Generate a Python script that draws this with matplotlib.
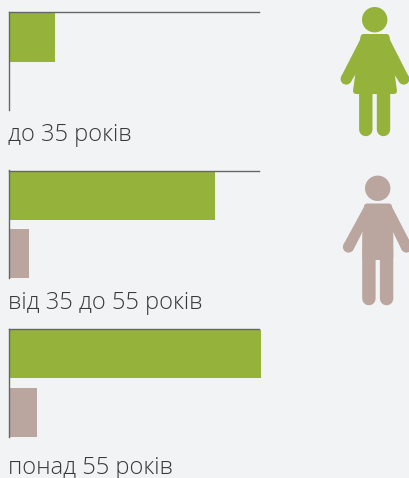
import matplotlib
matplotlib.use('Agg')
import matplotlib.pyplot as plt
from matplotlib.patches import Circle, Polygon

# values in percent of the top line length
age_labels = ['до 35 років', 'від 35 до 55 років', 'понад 55 років']
women = [18.5, 82.5, 100.8]
men = [0, 8.2, 11.4]

W, H = 409, 478
BG = '#f2f3f5'
GREEN = '#95b23b'
BROWN = '#baa69e'
LINE = '#666666'
TEXT = '#3a3a3a'

plt.rcParams['font.family'] = ['Open Sans', 'DejaVu Sans']

fig = plt.figure(figsize=(W / 100, H / 100), dpi=100, facecolor=BG)

# panel: top px, bottom px, lower y limit, label baseline px
panels = [(12, 110, 1.24, 141), (170.5, 278, 1.42, 309), (329, 437, 1.42, 473.5)]

for i, (top, bottom, ymax, base) in enumerate(panels):
    ax = fig.add_axes([8.5 / W, 1 - bottom / H, 250.5 / W, (bottom - top) / H])
    ax.set_facecolor('none')
    ax.barh(0, women[i], height=0.83, color=GREEN, clip_on=False, zorder=1)
    ax.barh(1, men[i], height=0.83, color=BROWN, clip_on=False, zorder=1)
    ax.set_xlim(0, 100)
    ax.set_ylim(ymax, -0.43)
    ax.set_xticks([])
    ax.set_yticks([])
    for side in ['right', 'bottom']:
        ax.spines[side].set_visible(False)
    for side in ['top', 'left']:
        ax.spines[side].set_color(LINE)
        ax.spines[side].set_linewidth(1.0)
        ax.spines[side].set_zorder(3)
    fig.text(8 / W, 1 - base / H, age_labels[i], fontsize=17, fontweight='light',
             color=TEXT, va='baseline', ha='left')

# pixel overlay for the two figures
ov = fig.add_axes([0, 0, 1, 1])
ov.set_xlim(0, W)
ov.set_ylim(H, 0)
ov.axis('off')


def limb(x0, y0, x1, y1, w, c):
    # snapping off, otherwise the legs jump to whole pixels
    ov.plot([x0, x1], [y0, y1], color=c, lw=w * 0.72, solid_capstyle='round', snap=False)


def body(pts, c):
    # wide round-joined edge gives the soft corners
    ov.add_patch(Polygon(pts, closed=True, facecolor=c, edgecolor=c, lw=6 * 0.72,
                         joinstyle='round', snap=False))


def arm(pts, hand, c):
    # arms get thicker towards the shoulder
    ov.add_patch(Polygon(pts, closed=True, color=c, lw=0, snap=False))
    ov.add_patch(Circle(hand, 5.6, color=c, lw=0))


# woman
ov.add_patch(Circle((374.7, 19.7), 12.7, color=GREEN, lw=0))
body([(363.5, 37), (386.5, 37), (394, 91), (356, 91)], GREEN)
arm([(362, 36), (341.2, 76.5), (351, 81.5), (357, 72), (365, 60)], (346.2, 79), GREEN)
arm([(388, 36), (408.6, 76.5), (399, 81.5), (392.5, 72), (385, 60)], (403.8, 79), GREEN)
limb(365.8, 92, 365.8, 129.5, 13.4, GREEN)
limb(383.5, 92, 383.5, 129.5, 13.4, GREEN)

# man
ov.add_patch(Circle((377.7, 188.3), 12.7, color=BROWN, lw=0))
body([(367, 206.5), (389, 206.5), (390.3, 257), (365.3, 257)], BROWN)
arm([(365, 205), (343.5, 244.5), (353.5, 249.5), (362, 233), (368, 225)], (348.5, 247), BROWN)
arm([(391, 205), (411.5, 244.5), (401.5, 249.5), (393.5, 233), (388, 225)], (406.5, 247), BROWN)
limb(368.9, 235, 368.9, 298.6, 13.4, BROWN)
limb(386.6, 235, 386.6, 298.6, 13.4, BROWN)

fig.savefig('out.png', dpi=100, facecolor=BG)
